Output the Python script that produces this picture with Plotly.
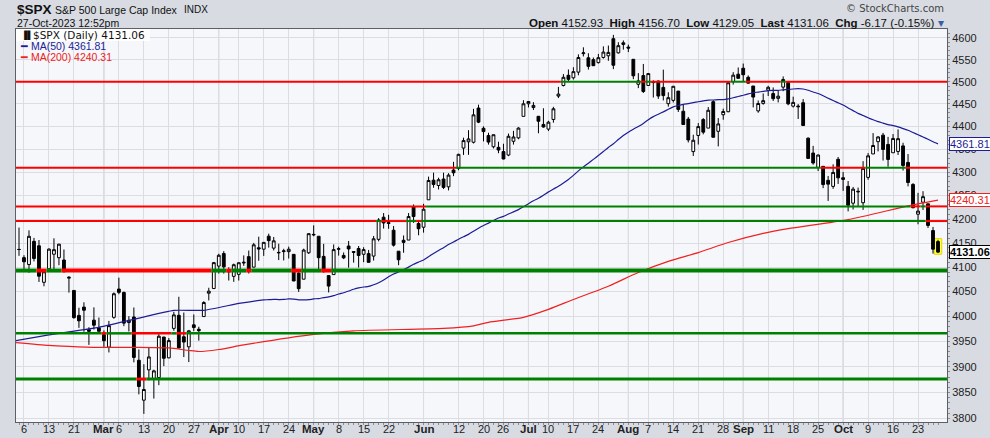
import math
import numpy as np
import pandas as pd
import plotly.graph_objects as go

# ---------------- data ----------------
HOLIDAYS = ["2023-02-20", "2023-04-07", "2023-05-29", "2023-06-19", "2023-07-04", "2023-09-04"]
CAL = [d.strftime("%Y-%m-%d") for d in pd.bdate_range("2023-02-02", "2023-10-27")
       if d.strftime("%Y-%m-%d") not in HOLIDAYS]
POS = {d: i - 1 for i, d in enumerate(CAL)}
dates = CAL[1:]  # 2023-02-03 .. 2023-10-27

open_ = [
    4136.69, 4119.57, 4105.35, 4153.47, 4144.25, 4068.92, 4096.62, 4126.70, 4119.50, 4114.75, 4077.39,
    4052.35, 4001.83, 4018.60, 3973.24, 3992.36, 3977.19,
    3963.34, 3938.68, 3998.02, 4055.15, 4048.26, 3987.55, 3998.66, 3912.77, 3835.12, 3894.01, 3876.74,
    3878.93, 3958.69, 3917.47, 3975.89, 4002.04, 3959.21, 3939.21, 3982.93, 3974.13, 3999.53, 4046.74, 4056.18,
    4102.20, 4128.03, 4094.50, 4081.15, 4085.20, 4110.29, 4121.72, 4100.04, 4140.11, 4137.17, 4164.26,
    4139.33, 4130.48, 4132.14, 4132.07, 4126.43, 4087.78, 4075.29, 4129.63,
    4166.79, 4164.10, 4122.25, 4082.61, 4084.73, 4136.98, 4124.25, 4143.74, 4132.24, 4138.54, 4126.65,
    4127.95, 4122.85, 4157.68, 4204.15, 4190.78, 4176.80, 4132.96, 4155.71, 4156.16, 4226.71, 4190.74,
    4183.03, 4241.01, 4282.99, 4271.61, 4285.47, 4268.69, 4304.88, 4308.32, 4352.61, 4366.29, 4365.33,
    4440.95, 4396.11, 4380.01, 4355.40, 4354.17, 4344.84, 4337.36, 4367.48, 4374.94, 4422.44,
    4450.48, 4442.04, 4422.62, 4404.54, 4394.23, 4415.55, 4467.69, 4491.50, 4514.61, 4508.86, 4521.78,
    4563.87, 4554.38, 4550.16, 4543.39, 4555.19, 4558.96, 4598.26, 4565.75, 4584.82,
    4578.83, 4550.93, 4494.27, 4513.96, 4491.58, 4498.03, 4501.57, 4487.16, 4450.69, 4458.13, 4478.87,
    4433.79, 4416.32, 4344.88, 4380.28, 4415.33, 4396.44, 4455.16, 4389.38, 4426.03, 4432.75, 4500.34, 4517.01,
    4530.60, 4510.06, 4490.35, 4434.55, 4451.30, 4480.98, 4473.27, 4462.65, 4487.78, 4497.98, 4445.13,
    4445.41, 4452.81, 4374.36, 4341.74, 4310.62, 4312.88, 4282.63, 4269.65, 4328.18,
    4284.52, 4269.75, 4233.83, 4259.31, 4234.79, 4289.02, 4339.75, 4366.59, 4380.94, 4360.49, 4342.37,
    4345.23, 4357.35, 4321.36, 4273.85, 4210.40, 4235.79, 4232.42, 4175.99, 4152.93,
]
high = [
    4182.36, 4124.63, 4176.54, 4160.67, 4156.23, 4094.36, 4138.90, 4159.77, 4148.11, 4136.54, 4081.51,
    4052.35, 4017.37, 4028.30, 3978.25, 4018.05, 3997.50,
    3971.73, 3990.84, 4048.29, 4078.49, 4050.00, 4000.41, 4017.81, 3934.05, 3905.05, 3937.29, 3894.26,
    3964.46, 3958.91, 3956.62, 4009.08, 4039.49, 4007.66, 3972.74, 4003.83, 3979.20, 4030.59, 4057.85, 4110.75,
    4127.66, 4133.13, 4099.69, 4107.32, 4109.50, 4124.26, 4134.37, 4150.26, 4163.19, 4151.72, 4169.48,
    4162.57, 4148.57, 4138.02, 4142.41, 4126.43, 4089.67, 4138.24, 4170.06,
    4186.92, 4164.10, 4148.30, 4082.61, 4147.02, 4142.30, 4130.35, 4154.28, 4132.80, 4143.74, 4141.25,
    4135.54, 4164.67, 4202.20, 4212.91, 4209.22, 4185.68, 4132.96, 4165.74, 4212.87, 4231.10, 4195.44,
    4232.43, 4290.67, 4299.28, 4288.33, 4299.19, 4298.01, 4322.62, 4340.13, 4375.37, 4391.82, 4439.20,
    4448.47, 4400.15, 4386.22, 4382.25, 4366.55, 4362.06, 4384.42, 4390.35, 4398.39, 4458.48,
    4456.46, 4454.06, 4422.62, 4440.39, 4412.60, 4443.64, 4488.34, 4517.38, 4527.76, 4532.85, 4562.30,
    4578.43, 4564.74, 4555.00, 4563.41, 4580.62, 4582.47, 4607.07, 4590.16, 4594.22,
    4584.62, 4550.93, 4519.49, 4540.34, 4519.84, 4503.31, 4502.44, 4527.37, 4476.23, 4490.33, 4478.87,
    4449.95, 4421.17, 4381.82, 4407.55, 4418.59, 4443.18, 4458.30, 4418.46, 4439.56, 4500.14, 4521.65, 4532.26,
    4541.25, 4514.29, 4490.35, 4457.81, 4473.53, 4490.77, 4487.11, 4479.39, 4511.99, 4497.98, 4466.36,
    4449.85, 4461.03, 4375.70, 4357.40, 4338.51, 4313.01, 4292.07, 4317.27, 4333.15,
    4300.58, 4281.15, 4268.50, 4267.13, 4324.10, 4341.73, 4385.46, 4378.64, 4385.85, 4377.10, 4383.33,
    4393.57, 4364.20, 4339.54, 4276.56, 4255.84, 4259.38, 4232.42, 4183.60, 4156.70,
]
low = [
    4123.36, 4093.38, 4088.39, 4111.86, 4069.67, 4060.79, 4092.67, 4095.01, 4103.98, 4089.89, 4047.95,
    3995.19, 3976.90, 3969.19, 3943.08, 3973.55, 3968.98,
    3939.05, 3928.16, 3995.17, 4044.61, 3980.31, 3969.76, 3908.70, 3846.32, 3808.86, 3873.63, 3838.24,
    3864.11, 3901.27, 3916.89, 3971.19, 3936.17, 3919.05, 3909.16, 3970.49, 3951.53, 3999.53, 4032.10, 4056.18,
    4086.87, 4086.87, 4072.56, 4069.84, 4072.55, 4102.61, 4086.94, 4099.40, 4113.20, 4123.18, 4140.36,
    4134.49, 4114.57, 4113.86, 4117.77, 4071.38, 4049.35, 4075.29, 4127.18,
    4164.12, 4089.72, 4088.86, 4048.28, 4084.73, 4123.81, 4116.65, 4098.92, 4109.29, 4099.12, 4110.27,
    4109.86, 4113.62, 4153.50, 4180.20, 4179.68, 4142.54, 4103.98, 4129.73, 4156.16, 4192.18, 4166.15,
    4171.64, 4241.01, 4266.82, 4263.09, 4263.96, 4261.07, 4291.70, 4304.37, 4337.66, 4337.85, 4362.60,
    4407.44, 4367.19, 4360.14, 4351.82, 4341.34, 4328.08, 4335.00, 4360.22, 4371.97, 4422.44,
    4442.29, 4436.61, 4385.05, 4397.40, 4389.92, 4408.46, 4463.23, 4489.36, 4499.56, 4504.90, 4514.59,
    4557.48, 4527.56, 4535.79, 4541.29, 4552.42, 4547.58, 4528.56, 4564.01, 4573.14,
    4567.53, 4505.75, 4485.54, 4474.55, 4491.15, 4464.39, 4461.33, 4457.92, 4443.98, 4453.44, 4432.19,
    4403.55, 4364.83, 4335.31, 4360.30, 4382.77, 4396.44, 4375.55, 4356.29, 4414.98, 4431.68, 4493.59, 4507.39,
    4501.35, 4496.01, 4442.38, 4430.46, 4448.38, 4467.89, 4456.83, 4453.52, 4478.69, 4447.21, 4442.11,
    4416.61, 4401.38, 4329.17, 4316.49, 4302.70, 4265.98, 4238.63, 4264.38, 4274.86,
    4260.21, 4216.45, 4220.48, 4225.91, 4219.55, 4283.79, 4339.64, 4345.34, 4325.43, 4311.97, 4342.37,
    4337.54, 4303.84, 4269.69, 4223.03, 4189.22, 4219.43, 4181.42, 4127.90, 4129.05,
]
close = [
    4136.48, 4111.08, 4164.00, 4117.86, 4081.50, 4090.46, 4137.29, 4136.13, 4147.60, 4090.41, 4079.09,
    3997.34, 3991.05, 4012.32, 3970.04, 3982.24, 3970.15,
    3951.39, 3981.35, 4045.64, 4048.42, 3986.37, 3992.01, 3918.32, 3861.59, 3855.76, 3919.29, 3891.93,
    3960.28, 3916.64, 3951.57, 4002.87, 3936.97, 3948.72, 3970.99, 3977.53, 3971.27, 4027.81, 4050.83, 4109.31,
    4124.51, 4100.60, 4090.38, 4105.02, 4109.11, 4108.94, 4091.95, 4146.22, 4137.64, 4151.32, 4154.87,
    4154.52, 4129.79, 4133.52, 4137.04, 4071.63, 4055.99, 4135.35, 4169.48,
    4167.87, 4119.58, 4090.75, 4061.22, 4136.25, 4138.12, 4119.17, 4137.64, 4130.62, 4124.08, 4136.28,
    4109.90, 4158.77, 4198.05, 4191.98, 4192.63, 4145.58, 4115.24, 4151.28, 4205.45, 4205.52, 4179.83,
    4221.02, 4282.37, 4273.79, 4283.85, 4267.52, 4293.93, 4298.86, 4338.93, 4369.01, 4372.59, 4425.84,
    4409.59, 4388.71, 4365.69, 4381.89, 4348.33, 4328.82, 4378.41, 4376.86, 4396.44, 4450.38,
    4455.59, 4446.82, 4411.59, 4398.95, 4409.53, 4439.26, 4472.16, 4510.04, 4505.42, 4522.79, 4554.98,
    4565.72, 4534.87, 4536.34, 4554.64, 4567.46, 4566.75, 4537.41, 4582.23, 4588.96,
    4576.73, 4513.39, 4501.89, 4478.03, 4518.44, 4499.38, 4467.71, 4468.83, 4464.05, 4489.72, 4437.86,
    4404.33, 4370.36, 4369.71, 4399.77, 4387.55, 4436.01, 4376.31, 4405.71, 4433.31, 4497.63, 4514.87, 4507.66,
    4515.77, 4496.83, 4465.48, 4451.14, 4457.49, 4487.46, 4461.90, 4467.44, 4505.10, 4450.32, 4453.53,
    4443.95, 4402.20, 4330.00, 4320.06, 4337.44, 4273.53, 4274.51, 4299.70, 4288.05,
    4288.39, 4229.45, 4263.75, 4258.19, 4308.50, 4335.66, 4358.24, 4376.95, 4349.61, 4327.78, 4373.63,
    4373.20, 4314.60, 4278.00, 4224.16, 4217.04, 4247.68, 4186.77, 4137.23, 4131.06,
]

# moving averages read off the chart where the 50-day window is not yet full
ma50_early_dates = ["2023-02-02", "2023-02-13", "2023-02-28", "2023-03-09", "2023-03-21", "2023-03-29", "2023-04-10"]
ma50_early_vals = [3951, 3963, 3978, 3994, 4012, 4012, 4026]
ma200_dates = ["2023-02-02", "2023-02-13", "2023-02-17", "2023-02-28", "2023-03-09", "2023-03-20", "2023-03-24",
               "2023-03-28", "2023-04-03", "2023-04-11", "2023-05-01", "2023-05-11", "2023-06-07", "2023-06-15",
               "2023-06-21", "2023-06-30", "2023-07-10", "2023-07-17", "2023-07-26", "2023-08-03", "2023-08-11",
               "2023-08-21", "2023-08-29", "2023-09-08", "2023-09-15", "2023-10-03", "2023-10-19", "2023-10-27"]
ma200_vals = [3948, 3942, 3940, 3938, 3938, 3937, 3932, 3930, 3934, 3943, 3964, 3971, 3976, 3981, 3988, 3998,
              4014, 4034, 4061, 4089, 4112, 4130, 4151, 4170, 4180, 4199, 4228, 4240.31]

# horizontal support / resistance levels
levels = [4500, 4310, 4227, 4196, 4093, 3966, 3876]
level_widths = [2, 2, 2, 2, 4, 2.5, 3]

tick_dates = ["2023-02-06", "2023-02-13", "2023-02-21", "2023-03-01", "2023-03-06", "2023-03-13", "2023-03-20",
              "2023-03-27", "2023-04-03", "2023-04-10", "2023-04-17", "2023-04-24", "2023-05-01", "2023-05-08",
              "2023-05-15", "2023-05-22", "2023-06-01", "2023-06-12", "2023-06-20", "2023-06-26", "2023-07-03",
              "2023-07-10", "2023-07-17", "2023-07-24", "2023-08-01", "2023-08-07", "2023-08-14", "2023-08-21",
              "2023-08-28", "2023-09-01", "2023-09-11", "2023-09-18", "2023-09-25", "2023-10-02", "2023-10-09",
              "2023-10-16", "2023-10-23"]
tick_text = ["6", "13", "21", "Mar", "6", "13", "20", "27", "Apr", "10", "17", "24", "May", "8", "15", "22",
             "Jun", "12", "20", "26", "Jul", "10", "17", "24", "Aug", "7", "14", "21", "28", "Sep", "11", "18",
             "25", "Oct", "9", "16", "23"]
y_ticks = list(range(3800, 4601, 50))

assert len(dates) == len(open_) == len(high) == len(low) == len(close)

# ---------------- figure ----------------
X = [POS[d] for d in dates]
W, H = 990, 438
L, R, T, B = 16, 43, 29, 16
PW, PH = W - L - R, H - T - B
XR = [-0.6, 185.8]
YR = [3.579022, 3.664709]


def fx(px):
    return (px - L) / PW


def fy(py):
    return 1 - (py - T) / PH


fig = go.Figure()

# highlight box behind the latest bar (bar layer sits beneath candlesticks)
lx = X[-1]
pad = 2.5
fig.add_trace(go.Bar(x=[lx], y=[high[-1] - low[-1] + 2 * pad], base=[low[-1] - pad], width=1.5,
                     marker=dict(color="#ffff40", line=dict(color="#e6d600", width=1)), hoverinfo="skip"))

fig.add_trace(go.Candlestick(
    x=X, open=open_, high=high, low=low, close=close,
    increasing=dict(line=dict(color="black", width=1), fillcolor="white"),
    decreasing=dict(line=dict(color="black", width=1), fillcolor="black"),
    whiskerwidth=0, hoverinfo="skip"))

# moving averages
s = pd.Series(close)
ma50_calc = s.rolling(50).mean()
ma50_x = [POS[d] for d in ma50_early_dates] + [X[i] for i in range(len(X)) if not np.isnan(ma50_calc[i])]
ma50_y = ma50_early_vals + [v for v in ma50_calc if not np.isnan(v)]
fig.add_trace(go.Scatter(x=ma50_x, y=ma50_y, mode="lines", line=dict(color="#1c1c96", width=1.2, shape="spline", smoothing=0.4),
                         hoverinfo="skip"))
fig.add_trace(go.Scatter(x=[POS[d] for d in ma200_dates], y=ma200_vals, mode="lines",
                         line=dict(color="#f02020", width=1.2, shape="spline", smoothing=0.6), hoverinfo="skip"))

# level lines coloured bar by bar (green when close is at/above, red below)
for lvl, lw in zip(levels, level_widths):
    cols = ["#008000" if c >= lvl else "#ff0000" for c in close]
    start = 0
    for i in range(1, len(cols) + 1):
        if i == len(cols) or cols[i] != cols[start]:
            x0 = X[start] - 0.5 if start > 0 else XR[0] - 2
            x1 = X[i - 1] + 0.5 if i < len(cols) else XR[1] + 2
            fig.add_trace(go.Scatter(x=[x0, x1], y=[lvl, lvl], mode="lines",
                                     line=dict(color=cols[start], width=lw), hoverinfo="skip"))
            start = i

# month grid lines
month_pos = [POS[d] for d, t in zip(tick_dates, tick_text) if t.isalpha()]
shapes = [dict(type="line", xref="x", yref="paper", x0=p, x1=p, y0=0, y1=1,
               line=dict(color="#c3c5cc", width=1), layer="between") for p in month_pos]
# white box behind first legend line
shapes.append(dict(type="rect", xref="paper", yref="paper", x0=0, x1=fx(150), y0=fy(41), y1=1,
                   fillcolor="white", line=dict(width=0), layer="above"))

ann = []
AR = "Liberation Sans, Arial, sans-serif"
DV = "DejaVu Sans, Verdana, sans-serif"
ann.append(dict(text="<b>$SPX</b>", x=fx(15), y=fy(10), font=dict(family=AR, size=13.5, color="#111")))
ann.append(dict(text="S&P 500 Large Cap Index", x=fx(53), y=fy(10), font=dict(family=AR, size=10.5, color="#111")))
ann.append(dict(text="INDX", x=fx(182), y=fy(10), font=dict(family=AR, size=10, color="#111")))
ann.append(dict(text="27-Oct-2023 12:52pm", x=fx(15), y=fy(23), font=dict(family=AR, size=10.5, color="#111")))
ann.append(dict(text="© StockCharts.com", x=fx(946), y=fy(8), xanchor="right", font=dict(family=DV, size=10, color="#444")))
ann.append(dict(text="<b>Open</b> 4152.93  <b>High</b> 4156.70  <b>Low</b> 4129.05  <b>Last</b> 4131.06  <b>Chg</b> -6.17 (-0.15%) "
                     "<span style='color:#3b5da8'>▾</span>",
                x=fx(946), y=fy(23), xanchor="right", font=dict(family=AR, size=11.5, color="#111")))
# legend
ann.append(dict(text="$SPX (Daily) 4131.06", x=fx(31), y=fy(35), font=dict(family=DV, size=10.5, color="#111")))
ann.append(dict(text="<b>\u2590\u258c</b>", x=fx(19), y=fy(35), font=dict(family=DV, size=8, color="#111")))
ann.append(dict(text="━ MA(50) 4361.81", x=fx(18), y=fy(46), font=dict(family=AR, size=10.5, color="#1c1c96")))
ann.append(dict(text="━ MA(200) 4240.31", x=fx(18), y=fy(57), font=dict(family=AR, size=10.5, color="#f02020")))
for a in ann:
    a.update(xref="paper", yref="paper", showarrow=False, yanchor="middle")
    a.setdefault("xanchor", "left")

# date labels under the axis
for d, t in zip(tick_dates, tick_text):
    ann.append(dict(text=f"<b>{t}</b>" if t.isalpha() else t, x=POS[d], xref="x", y=fy(429), yref="paper",
                    xanchor="center", yanchor="middle", showarrow=False,
                    font=dict(family=AR, size=11.5 if t.isalpha() else 11, color="#222")))

# value tags on the right axis
tags = [(ma50_y[-1], "#1c1c96", False), (ma200_vals[-1], "#f02020", False), (close[-1], "#000000", True)]
for v, col, bold in tags:
    txt = f"{v:.2f}"
    ann.append(dict(text=f"<b>{txt}</b>" if bold else txt, x=1, xref="paper", xanchor="left", xshift=2,
                    y=math.log10(v), yref="y", yanchor="middle", showarrow=False,
                    font=dict(family=AR, size=11, color=col), bgcolor="white", bordercolor=col,
                    borderwidth=1, borderpad=0))
    fig.add_trace(go.Scatter(x=[XR[1] + 0.2], y=[v], mode="markers", cliponaxis=False,
                             marker=dict(symbol="triangle-left", size=6, color="white", line=dict(color=col, width=1)),
                             hoverinfo="skip"))

fig.update_layout(
    width=W, height=H, margin=dict(l=L, r=R, t=T, b=B, autoexpand=False),
    paper_bgcolor="#d8dbe2", plot_bgcolor="#f6f7fb",
    showlegend=False, hovermode=False, boxgap=0.2,
    shapes=shapes, annotations=ann,
    xaxis=dict(range=XR, tickmode="array", tickvals=[POS[d] for d in tick_dates], showticklabels=False,
               showgrid=True, gridcolor="#dcdde3", gridwidth=1, zeroline=False,
               showline=True, mirror=True, linecolor="#5c5f66", linewidth=1,
               ticks="", automargin=False,
               minor=dict(tickmode="array", tickvals=X, ticks="outside", ticklen=2, tickcolor="#8a8c93", showgrid=False),
               rangeslider=dict(visible=False), fixedrange=True),
    yaxis=dict(type="log", range=YR, side="right", tickmode="array", tickvals=y_ticks,
               ticktext=[str(v) for v in y_ticks], showgrid=True, gridcolor="#dcdde3", gridwidth=1,
               zeroline=False, showline=True, mirror=True, linecolor="#5c5f66", linewidth=1,
               ticks="outside", ticklen=2, tickcolor="#8a8c93", automargin=False,
               minor=dict(tickmode="array", tickvals=list(range(3800, 4611, 10)), ticks="outside", ticklen=2,
                          tickcolor="#8a8c93", showgrid=False),
               tickfont=dict(family=AR, size=11, color="#222"), fixedrange=True),
)

fig.write_html("out.html")
